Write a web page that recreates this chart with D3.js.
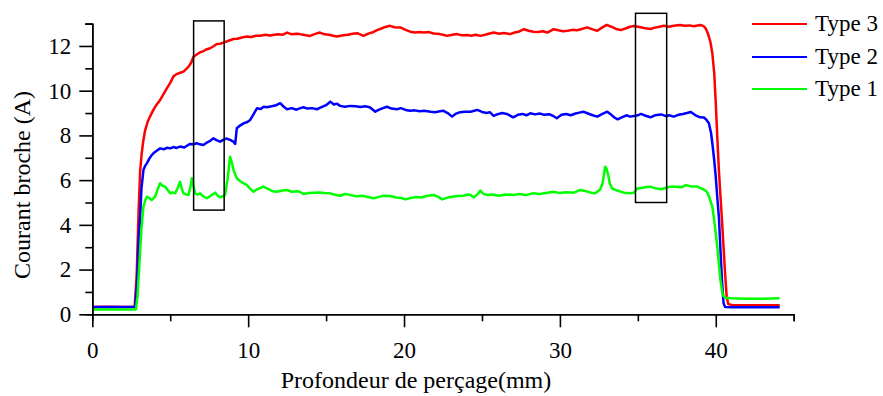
<!DOCTYPE html>
<html><head><meta charset="utf-8">
<script src="https://cdn.jsdelivr.net/npm/d3@7"></script>
<style>body{margin:0;background:#fff}svg{display:block}text{font-family:"Liberation Serif","Times New Roman",serif;fill:#000}</style>
</head><body>
<script>
const seriesNames = ["Type 3","Type 2","Type 1"];
const seriesColors = ["#ff0000","#0000ff","#00ff00"];
const xTicks = [0,10,20,30,40];
const yTicks = [0,2,4,6,8,10,12];
const xLabel = "Profondeur de perçage(mm)";
const yLabel = "Courant broche (A)";
const boxes = [[6.5,8.46,4.66,13.12],[34.85,36.85,5.0,13.46]];

const type3 = [[0,0.33],[1,0.34],[2,0.33],[2.72,0.34],[2.85,1.8],[2.97,4.6],[3.07,6.4],[3.17,7.2],[3.27,7.75],[3.38,8.2],[3.55,8.6],[3.7,8.84],[3.92,9.14],[4.1,9.35],[4.35,9.58],[4.55,9.82],[4.78,10.1],[5.0,10.35],[5.2,10.63],[5.4,10.74],[5.65,10.8],[5.85,10.85],[6.0,10.95],[6.17,11.07],[6.35,11.26],[6.49,11.52],[6.7,11.62],[6.92,11.72],[7.1,11.76],[7.3,11.84],[7.56,11.9],[7.8,12.0],[7.99,12.09],[8.2,12.1],[8.42,12.15],[8.7,12.22],[9.06,12.31],[9.3,12.32],[9.6,12.38],[9.92,12.42],[10.2,12.4],[10.5,12.46],[10.77,12.46],[11.1,12.5],[11.4,12.47],[11.6,12.49],[11.9,12.52],[12.2,12.5],[12.5,12.6],[12.8,12.52],[13.1,12.55],[13.3,12.53],[13.7,12.48],[13.97,12.45],[14.3,12.54],[14.6,12.6],[14.9,12.52],[15.2,12.5],[15.45,12.46],[15.7,12.42],[16.1,12.48],[16.4,12.5],[16.7,12.55],[17.0,12.57],[17.4,12.45],[17.7,12.55],[17.95,12.6],[18.27,12.71],[18.55,12.78],[18.8,12.85],[19.1,12.9],[19.4,12.84],[19.76,12.83],[20.1,12.72],[20.4,12.64],[20.7,12.6],[21.0,12.62],[21.26,12.6],[21.6,12.62],[21.9,12.56],[22.3,12.53],[22.5,12.5],[22.76,12.45],[23.1,12.5],[23.4,12.53],[23.7,12.48],[24.05,12.49],[24.3,12.46],[24.6,12.5],[24.9,12.45],[25.2,12.5],[25.5,12.56],[25.75,12.6],[26.1,12.55],[26.4,12.58],[26.8,12.53],[27.1,12.6],[27.4,12.65],[27.7,12.75],[28.0,12.68],[28.3,12.64],[28.6,12.62],[28.9,12.66],[29.2,12.6],[29.6,12.75],[29.9,12.7],[30.2,12.66],[30.5,12.68],[30.8,12.72],[31.1,12.7],[31.4,12.76],[31.75,12.83],[32.1,12.74],[32.4,12.68],[32.7,12.82],[33.0,12.94],[33.3,12.86],[33.6,12.76],[33.9,12.71],[34.2,12.78],[34.5,12.86],[34.75,12.89],[35.1,12.85],[35.4,12.8],[35.8,12.76],[36.1,12.82],[36.4,12.86],[36.67,12.9],[37.0,12.86],[37.3,12.9],[37.7,12.94],[38.0,12.9],[38.3,12.92],[38.6,12.88],[39.0,12.94],[39.2,12.9],[39.35,12.79],[39.5,12.55],[39.65,12.2],[39.78,11.67],[39.9,10.8],[40.0,9.45],[40.1,7.9],[40.2,6.45],[40.3,5.3],[40.4,4.2],[40.5,3.0],[40.6,1.8],[40.7,0.8],[40.8,0.46],[41.0,0.42],[42,0.41],[43,0.4],[44.1,0.4]];

const type2 = [[0,0.33],[1,0.33],[2,0.33],[2.75,0.33],[2.88,1.5],[2.98,3.5],[3.06,4.2],[3.15,5.6],[3.28,6.45],[3.4,6.65],[3.5,6.75],[3.65,6.95],[3.81,7.12],[4.0,7.25],[4.2,7.35],[4.35,7.42],[4.6,7.38],[4.8,7.45],[5.0,7.42],[5.2,7.48],[5.4,7.44],[5.63,7.5],[5.9,7.46],[6.1,7.55],[6.27,7.62],[6.5,7.6],[6.7,7.65],[6.9,7.6],[7.13,7.57],[7.35,7.68],[7.55,7.75],[7.77,7.87],[8.0,7.78],[8.2,7.72],[8.4,7.8],[8.6,7.86],[8.84,7.8],[9.05,7.72],[9.17,7.62],[9.27,8.32],[9.5,8.45],[9.7,8.54],[9.95,8.6],[10.13,8.69],[10.35,8.95],[10.56,9.21],[10.8,9.18],[11.0,9.28],[11.2,9.26],[11.5,9.3],[11.8,9.35],[12.06,9.44],[12.25,9.3],[12.49,9.17],[12.8,9.22],[13.1,9.15],[13.3,9.21],[13.55,9.26],[13.8,9.2],[14.1,9.22],[14.41,9.17],[14.7,9.26],[15.0,9.35],[15.27,9.51],[15.5,9.38],[15.7,9.42],[15.9,9.32],[16.2,9.28],[16.55,9.32],[16.9,9.3],[17.2,9.27],[17.5,9.3],[17.8,9.26],[18.0,9.15],[18.16,9.06],[18.4,9.15],[18.65,9.22],[18.9,9.28],[19.2,9.2],[19.55,9.17],[19.8,9.22],[20.1,9.14],[20.4,9.1],[20.7,9.12],[21.0,9.08],[21.3,9.1],[21.7,9.06],[22.0,9.04],[22.3,9.08],[22.54,9.1],[22.8,9.0],[23.08,8.84],[23.3,8.96],[23.6,9.04],[23.9,9.06],[24.26,9.06],[24.5,9.1],[24.7,9.14],[25.0,9.05],[25.3,9.0],[25.5,9.04],[25.75,8.87],[26.0,8.95],[26.3,9.0],[26.6,8.96],[27.0,8.81],[27.3,8.92],[27.6,8.96],[27.85,8.9],[28.1,8.99],[28.4,8.94],[28.7,8.98],[29.0,8.92],[29.3,8.95],[29.55,8.88],[29.8,8.77],[30.1,8.92],[30.4,8.96],[30.7,8.9],[31.0,8.98],[31.25,9.02],[31.5,9.06],[31.8,8.98],[32.1,8.9],[32.4,8.84],[32.7,8.95],[33.04,9.06],[33.3,8.92],[33.5,8.8],[33.7,8.72],[34.0,8.82],[34.3,8.9],[34.5,8.84],[34.75,8.87],[35.0,8.9],[35.2,8.96],[35.5,8.88],[35.8,8.81],[36.1,8.9],[36.5,8.94],[36.8,8.86],[37.0,8.9],[37.3,8.84],[37.6,8.92],[37.9,8.96],[38.15,9.0],[38.4,9.05],[38.7,8.9],[39.0,8.81],[39.24,8.8],[39.4,8.7],[39.56,8.54],[39.7,8.1],[39.78,7.65],[39.9,6.9],[40.0,6.15],[40.1,5.2],[40.2,4.36],[40.3,2.9],[40.4,1.5],[40.5,0.5],[40.6,0.33],[41,0.32],[42,0.32],[43,0.32],[44.1,0.32]];

const type1 = [[0,0.22],[1,0.22],[2,0.22],[2.8,0.22],[2.9,0.8],[3.0,2.0],[3.06,2.74],[3.15,3.8],[3.28,4.81],[3.4,5.1],[3.5,5.26],[3.65,5.2],[3.81,5.11],[4.03,5.26],[4.2,5.6],[4.35,5.86],[4.5,5.75],[4.67,5.71],[4.85,5.55],[5.0,5.41],[5.15,5.45],[5.31,5.41],[5.45,5.6],[5.63,5.93],[5.75,5.6],[5.85,5.41],[6.0,5.36],[6.17,5.34],[6.3,5.7],[6.38,6.08],[6.5,5.7],[6.6,5.41],[6.75,5.35],[6.92,5.41],[7.1,5.28],[7.35,5.19],[7.6,5.3],[7.88,5.44],[8.05,5.3],[8.2,5.23],[8.38,5.28],[8.52,5.34],[8.67,6.0],[8.84,7.05],[8.95,6.8],[9.06,6.45],[9.27,6.08],[9.5,5.95],[9.72,5.85],[9.92,5.78],[10.15,5.6],[10.34,5.48],[10.6,5.6],[10.98,5.71],[11.3,5.6],[11.6,5.5],[11.84,5.48],[12.2,5.54],[12.49,5.56],[12.8,5.48],[13.1,5.5],[13.3,5.48],[13.55,5.38],[13.9,5.42],[14.2,5.44],[14.6,5.45],[14.9,5.42],[15.27,5.41],[15.5,5.36],[15.9,5.3],[16.2,5.38],[16.55,5.34],[16.9,5.28],[17.3,5.3],[17.6,5.26],[18.05,5.19],[18.4,5.25],[18.7,5.3],[19.1,5.29],[19.5,5.22],[19.8,5.2],[20.1,5.14],[20.4,5.2],[20.8,5.25],[21.1,5.22],[21.5,5.3],[21.9,5.34],[22.2,5.25],[22.44,5.14],[22.8,5.22],[23.1,5.26],[23.4,5.29],[23.8,5.3],[24.1,5.36],[24.26,5.34],[24.47,5.23],[24.7,5.36],[24.9,5.53],[25.1,5.38],[25.33,5.34],[25.7,5.36],[26.1,5.3],[26.5,5.36],[27.04,5.34],[27.4,5.38],[27.8,5.33],[28.3,5.41],[28.7,5.38],[29.1,5.42],[29.6,5.48],[30.0,5.42],[30.4,5.46],[30.9,5.44],[31.3,5.56],[31.7,5.5],[32.0,5.44],[32.2,5.41],[32.4,5.48],[32.6,5.59],[32.75,5.9],[32.9,6.6],[33.0,6.5],[33.1,6.23],[33.2,5.85],[33.35,5.63],[33.6,5.55],[33.85,5.5],[34.1,5.44],[34.5,5.41],[34.75,5.44],[34.96,5.63],[35.2,5.65],[35.5,5.68],[35.8,5.71],[36.1,5.64],[36.5,5.59],[36.8,5.66],[37.1,5.71],[37.5,5.7],[37.8,5.68],[38.07,5.78],[38.4,5.72],[38.8,5.71],[39.1,5.62],[39.3,5.55],[39.46,5.45],[39.6,5.2],[39.78,4.81],[39.9,4.2],[40.0,3.6],[40.1,3.0],[40.2,2.25],[40.3,1.53],[40.45,0.86],[40.6,0.74],[41,0.72],[42,0.7],[43,0.7],[44.1,0.72]];

const seriesData = [type3, type2, type1];

const W = 883, H = 396;
const svg = d3.select("body").append("svg").attr("width", W).attr("height", H);
const x = d3.scaleLinear().domain([0, 45]).range([92.3, 793.7]);
const y = d3.scaleLinear().domain([0, 13]).range([314.3, 23.6]);

// data lines
const line = d3.line().x(d => x(d[0])).y(d => y(d[1]));
seriesData.forEach((s, i) => {
  svg.append("path").datum(s).attr("d", line)
    .attr("fill", "none").attr("stroke", seriesColors[i])
    .attr("stroke-width", 2.5).attr("stroke-linejoin", "round");
});

// boxes
boxes.forEach(b => {
  svg.append("rect").attr("x", x(b[0])).attr("y", y(b[3]))
    .attr("width", x(b[1]) - x(b[0])).attr("height", y(b[2]) - y(b[3]))
    .attr("fill", "none").attr("stroke", "#000").attr("stroke-width", 1.5);
});

// axes
const tickFont = 23, titleFont = 24, legendFont = 23;
const xMinor = d3.range(5, 46, 10);
const yMinor = d3.range(1, 14, 2);
const gx = svg.append("g").attr("transform", `translate(0,${y(0)})`);
gx.call(d3.axisBottom(x).tickValues(xMinor).tickSize(7).tickFormat(""));
gx.call(g => g.append("g").call(d3.axisBottom(x).tickValues(xTicks).tickSize(13).tickSizeOuter(0).tickPadding(14).tickFormat(d3.format("d"))));
const gy = svg.append("g").attr("transform", `translate(${x(0)},0)`);
gy.call(d3.axisLeft(y).tickValues(yMinor).tickSize(7).tickFormat(""));
gy.call(g => g.append("g").call(d3.axisLeft(y).tickValues(yTicks).tickSize(13).tickSizeOuter(0).tickPadding(8).tickFormat(d3.format("d"))));
svg.selectAll(".domain").attr("stroke", "#000").attr("stroke-width", 1.6);
svg.selectAll(".tick line").attr("stroke", "#000").attr("stroke-width", 1.6);
svg.selectAll(".tick text").attr("font-size", tickFont).attr("font-family", "Liberation Serif").attr("fill", "#000");

svg.append("text").attr("x", 416).attr("y", 388).attr("text-anchor", "middle")
  .attr("font-size", titleFont).text(xLabel);
svg.append("text").attr("transform", `translate(30,${(y(0)+y(13))/2+16}) rotate(-90)`)
  .attr("text-anchor", "middle").attr("font-size", titleFont).text(yLabel);

// legend
const legY = [24, 57, 89];
seriesNames.forEach((n, i) => {
  svg.append("line").attr("x1", 752).attr("x2", 807).attr("y1", legY[i]).attr("y2", legY[i])
    .attr("stroke", seriesColors[i]).attr("stroke-width", 2);
  svg.append("text").attr("x", 815).attr("y", legY[i] + 7).attr("font-size", legendFont).text(n);
});
</script>
</body></html>
